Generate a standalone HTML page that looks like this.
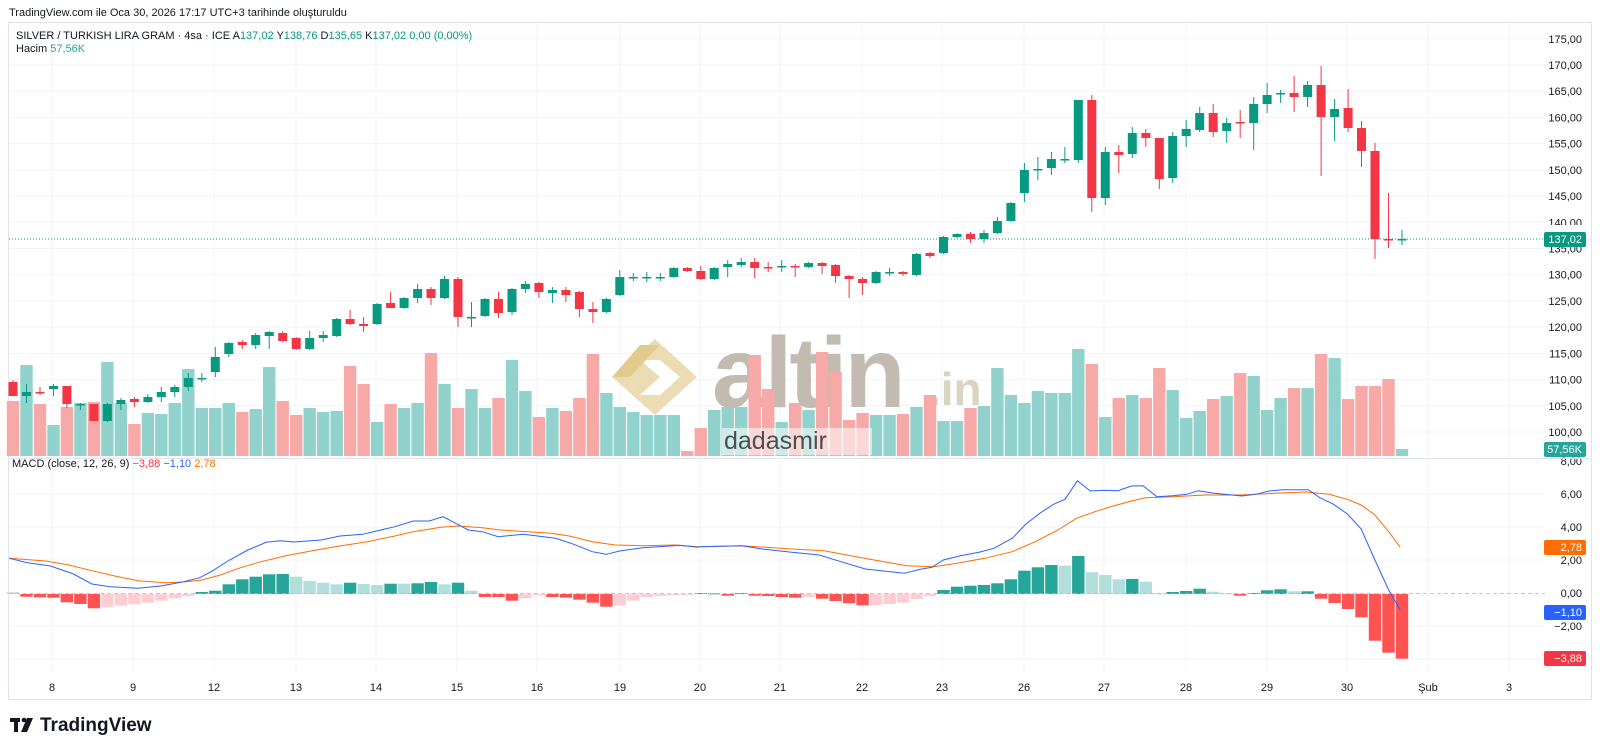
<!DOCTYPE html>
<html><head><meta charset="utf-8">
<style>
html,body{margin:0;padding:0;background:#fff;}
body{width:1600px;height:751px;overflow:hidden;position:relative;font-family:"Liberation Sans",sans-serif;}
svg{position:absolute;left:0;top:0;}
</style></head>
<body>
<svg id="s" width="1600" height="751" xmlns="http://www.w3.org/2000/svg" font-family="Liberation Sans, sans-serif"></svg>
<script>
const S=document.getElementById('s');
let h='';
const G='#089981',R='#f23645';
// frame
h+='<rect x="8.5" y="22.5" width="1583" height="677" fill="#fff" stroke="#e0e3eb"/>';
// price grid
const py=p=>65+(170-p)*5.243;
for(let p=100;p<=175;p+=5){const y=py(p);h+=`<line x1="9" y1="${y}" x2="1545" y2="${y}" stroke="#f0f3fa"/>`;
 h+=`<text x="1582" y="${y+4}" font-size="11" fill="#131722" text-anchor="end">${p},00</text>`;}
// macd grid
const my=m=>593-m*16.5;
for(let m=-4;m<=8;m+=2){const y=my(m);if(m!=0&&m!=8)h+=`<line x1="9" y1="${y}" x2="1545" y2="${y}" stroke="#f0f3fa"/>`;
 if(m>-4)h+=`<text x="1582" y="${y+4}" font-size="11" fill="#131722" text-anchor="end">${m<0?'−':''}${Math.abs(m)},00</text>`;}
// pane divider
h+='<line x1="9" y1="458.5" x2="1591" y2="458.5" stroke="#e0e3eb"/>';
// date grid/labels
const dates=[['8',52],['9',133],['12',214],['13',296],['14',376],['15',457],['16',537],['19',620],['20',700],['21',780],['22',862],['23',942],['26',1024],['27',1104],['28',1186],['29',1267],['30',1347],['Şub',1428],['3',1509]];
for(const [t,x] of dates){h+=`<line x1="${x}" y1="23" x2="${x}" y2="672" stroke="#f0f3fa"/>`;
 h+=`<text x="${x}" y="691" font-size="11" fill="#131722" text-anchor="middle">${t}</text>`;}
// watermark
h+='<g opacity="0.85"><polygon points="655,339 697,377 655,415 612,377" fill="#e9d7a6"/><polygon points="640,360 660,360 680,377 660,395 640,395 660,377" fill="#fff"/><polygon points="612,377 640,345 660,345 630,377" fill="#dfc27a"/></g>';
h+='<text x="712" y="407" font-size="100" font-weight="bold" fill="#b7b0a3" opacity="0.85" letter-spacing="-3">altin</text>';
h+='<text x="928" y="405" font-size="46" font-weight="bold" fill="#d9d0bc" opacity="0.9">.in</text>';
// candles
const C=[
['r',382,396,380,396,401],['g',392,396,384,403,365],['r',392,392,387,395,404],['g',386,389,384,396,425],['r',386,404,386,408,407],['g',404,404,403,410,403],['r',404,421,404,421,402],['g',404,421,403,422,362],['g',400,404,398,410,403],['r',399,402,397,407,424],
['g',397,402,394,403,413],['g',392,397,387,402,414],['g',387,392,385,397,403],['g',378,387,373,391,369],['g',378,378,373,382,408],['g',357,372,347,377,408],['g',343,354,342,357,403],['r',342,345,340,349,412],['g',335,345,333,349,409],['g',332,336,331,349,367],
['r',333,341,331,342,401],['r',338,349,337,350,415],['g',338,349,331,350,408],['g',335,338,331,342,412],['g',319,336,318,337,411],['r',319,324,310,325,366],['r',324,326,317,332,384],['g',304,324,303,325,422],['r',303,308,292,308,404],['g',298,308,297,309,408],
['g',289,298,284,303,403],['r',289,298,287,305,353],['g',279,298,276,299,384],['r',279,317,277,327,408],['g',317,317,302,327,389],['g',299,316,298,317,408],['r',299,313,292,318,398],['g',289,312,288,315,360],['g',284,289,281,293,391],['r',283,292,282,298,417],
['g',290,293,287,303,408],['r',290,295,287,302,411],['r',292,309,291,317,398],['r',309,312,302,323,354],['g',299,312,298,313,393],['g',277,295,270,296,407],['g',277,277,273,281,412],['g',277,277,272,282,415],['g',277,277,273,281,415],['g',268,277,267,278,415],
['r',268,271,267,272,451],['r',271,279,266,280,428],['g',268,279,267,280,410],['g',264,267,260,277,407],['g',262,265,258,267,407],['r',262,268,258,278,355],['r',267,267,262,272,389],['g',266,266,260,272,422],['r',266,266,264,277,403],['g',263,267,262,268,410],
['r',263,266,262,274,352],['r',265,276,264,283,372],['r',276,279,275,298,420],['r',279,283,277,295,413],['g',272,283,271,284,415],['g',272,272,268,276,415],['r',272,274,271,276,414],['g',254,275,253,276,407],['r',253,256,252,258,395],['g',237,253,236,254,421],
['g',234,237,233,238,421],['r',234,239,232,243,408],['g',233,239,230,243,406],['g',221,233,217,234,368],['g',203,221,202,222,395],['g',170,193,163,202,403],['g',169,169,157,180,391],['g',159,168,152,175,393],['g',159,159,147,163,393],['g',100,160,100,163,349],
['r',100,198,95,212,364],['g',152,198,147,205,417],['r',152,155,145,173,398],['g',133,154,127,158,395],['r',133,138,129,147,398],['r',138,179,138,189,368],['g',136,178,132,183,390],['g',129,136,120,147,418],['g',113,130,107,132,411],['r',113,132,104,137,399],
['g',123,131,118,143,396],['r',122,122,110,138,373],['g',104,123,97,150,376],['g',95,104,83,113,410],['g',93,93,90,103,398],['r',93,97,76,112,388],['g',85,97,81,107,388],['r',85,117,66,176,354],['g',109,117,99,141,358],['r',108,128,89,132,399],
['r',128,151,121,167,386],['r',151,239,143,259,386],['r',239,239,193,248,379],['g',239,239,230,245,449]];
const N=C.length, X=i=>13+i*(1389/(N-1));
let vol='',cand='';
C.forEach((c,i)=>{const x=X(i);const col=c[0]=='g'?G:R;
 vol+=`<rect x="${(x-6.2).toFixed(1)}" y="${c[5]}" width="12.4" height="${456-c[5]}" fill="${c[0]=='g'?'#92d2cc':'#f7a9a7'}"/>`;
 cand+=`<line x1="${x.toFixed(1)}" y1="${c[3]}" x2="${x.toFixed(1)}" y2="${c[4]}" stroke="${col}" stroke-width="1"/>`;
 const hh=Math.max(1.5,c[2]-c[1]);
 cand+=`<rect x="${(x-4.5).toFixed(1)}" y="${c[1]}" width="9" height="${hh}" fill="${col}"/>`;});
h+=vol;
h+='<rect x="722" y="428" width="150" height="27" fill="#fff" opacity="0.55"/>';
h+='<text x="724" y="449" font-size="25" fill="#4a4f4f">dadasmir</text>';
h+=cand;
// current price line
h+='<line x1="9" y1="239" x2="1545" y2="239" stroke="#089981" stroke-dasharray="1,2" stroke-width="1"/>';
// histogram
const H6='L427 R440 R442 R443 R457 R462 R475 P472 P467 P463 P458 P452 P445 P438 T426 T422 T403 T388 T380 T373 T372 L380 L393 L398 L403 T398 L402 L405 T401 L401 T400 T396 L403 T398 L422 R441 R441 R452 P445 P436 R441 R443 R449 R458 R470 P466 P452 P442 P438 P436 P435 T429 T430 R437';
const H7='T429 R437 R438 R441 R443 P441 R446 R453 R460 R466 P465 P462 P458 P447 P438 T420 T410 T407 T405 T400 T388 T362 T352 T345 L347 T318 L367 L375 L388 T387 L395 L430 T426 T423 T416 L425 L430 R437 T429 T421 T418 L424 T424 R446 R459 R477 R502 R572 R608 R626';
const HC={T:'#26a69a',L:'#b2dfdb',R:'#ff5252',P:'#ffcdd2'};
(H6+' '+H7).split(' ').forEach((s,i)=>{const x=X(i);const y=450+(+s.slice(1))/3;const z=594;
 const t=Math.min(y,z),hh=Math.max(1,Math.abs(y-z));
 h+=`<rect x="${(x-6.2).toFixed(1)}" y="${t.toFixed(1)}" width="12.4" height="${hh.toFixed(1)}" fill="${HC[s[0]]}"/>`;});
h+='<line x1="9" y1="593.5" x2="1545" y2="593.5" stroke="#b2b5be" stroke-dasharray="4,3" stroke-width="0.8"/>';
// macd lines
const cv6=a=>a.map(p=>[(p[0]/2.178).toFixed(1),(450+p[1]/3).toFixed(1)]);
const cv7=a=>a.map(p=>[(700+p[0]/2.178).toFixed(1),(450+p[1]/3).toFixed(1)]);
const b6=[[20,325],[60,338],[110,348],[160,372],[200,402],[240,410],[300,415],[350,408],[400,395],[435,383],[460,365],[500,330],[540,300],[580,277],[610,272],[640,276],[700,270],[740,258],[790,253],[820,243],[860,230],[900,213],[935,213],[965,200],[990,218],[1020,240],[1050,245],[1085,260],[1140,253],[1210,265],[1250,283],[1290,305],[1320,313],[1350,303],[1400,293],[1460,288],[1480,286],[1520,292]];
const o6=[[20,325],[100,333],[150,345],[200,362],[250,378],[300,392],[360,398],[400,396],[440,390],[480,375],[520,355],[560,338],[620,318],[680,302],[740,288],[800,275],[860,258],[900,245],[960,232],[1000,228],[1050,233],[1090,240],[1150,245],[1200,250],[1240,258],[1290,275],[1340,285],[1400,287],[1470,285],[1520,290]];
const b7=[[0,290],[90,287],[140,298],[200,307],[260,315],[300,332],[360,357],[400,363],[445,370],[480,358],[505,352],[530,330],[565,318],[610,306],[640,295],[680,265],[710,222],[740,190],[770,163],[795,148],[822,92],[850,123],[880,121],[910,122],[940,108],[965,107],[995,140],[1030,137],[1060,133],[1085,122],[1120,130],[1180,138],[1210,133],[1240,123],[1270,119],[1325,119],[1350,143],[1380,163],[1410,192],[1440,237],[1470,330],[1500,420],[1525,480]];
const o7=[[0,290],[90,287],[200,297],[270,302],[340,320],[400,335],[450,347],[510,350],[560,340],[620,325],[680,305],[730,275],[780,240],[820,205],[860,185],[900,168],[940,153],[970,143],[1030,140],[1100,135],[1180,135],[1250,130],[1320,126],[1370,133],[1410,148],[1440,165],[1470,195],[1500,245],[1525,292]];
const pl=(a,c)=>`<polyline fill="none" stroke="${c}" stroke-width="1" points="${a.map(p=>p.join(',')).join(' ')}"/>`;
h+=pl(cv6(o6).concat(cv7(o7)),'#ff6d00');
h+=pl(cv6(b6).concat(cv7(b7)),'#2962ff');
// axis labels boxes
const box=(y,t,c)=>`<rect x="1544" y="${y-7}" width="42" height="15" rx="2" fill="${c}"/><text x="1582" y="${y+4}" font-size="11" fill="#fff" text-anchor="end">${t}</text>`;
h+='<rect x="1546" y="225" width="40" height="14" fill="#fff"/>';
h+=box(239,'137,02','#089981');
h+=box(449,'57,56K','#26a69a');
h+=box(547,'2,78','#ff6d00');
h+=box(612,'−1,10','#2962ff');
h+=box(658,'−3,88','#f23645');
// legends
h+='<text x="9" y="16" font-size="11" fill="#131722">TradingView.com ile Oca 30, 2026 17:17 UTC+3 tarihinde oluşturuldu</text>';
h+='<text x="16" y="39" font-size="11" fill="#131722">SILVER / TURKISH LIRA GRAM · 4sa · ICE  A<tspan fill="#089981">137,02</tspan>  Y<tspan fill="#089981">138,76</tspan>  D<tspan fill="#089981">135,65</tspan>  K<tspan fill="#089981">137,02</tspan>  <tspan fill="#089981">0,00 (0,00%)</tspan></text>';
h+='<text x="16" y="52" font-size="11" fill="#131722">Hacim  <tspan fill="#26a69a">57,56K</tspan></text>';
h+='<text x="12" y="467" font-size="11" fill="#131722">MACD (close, 12, 26, 9)  <tspan fill="#f23645">−3,88</tspan>  <tspan fill="#2962ff">−1,10</tspan>  <tspan fill="#ff6d00">2,78</tspan></text>';
// logo
h+='<rect x="10" y="718" width="10" height="4" fill="#131722"/><rect x="14" y="718" width="4" height="14" fill="#131722"/><circle cx="24" cy="720" r="2.3" fill="#131722"/><polygon points="27,718 33,718 27,732 21,732" fill="#131722"/>';
h+='<text x="40" y="731" font-size="19" font-weight="bold" fill="#131722">TradingView</text>';
S.innerHTML=h;
</script>
</body></html>
